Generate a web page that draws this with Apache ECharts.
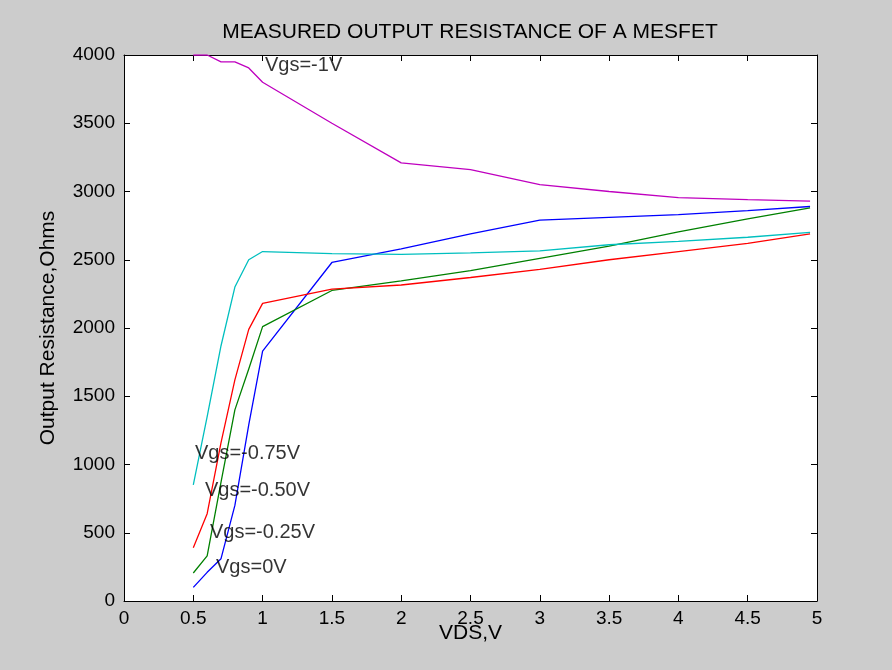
<!DOCTYPE html>
<html>
<head>
<meta charset="utf-8">
<script src="https://cdn.jsdelivr.net/npm/echarts@6/dist/echarts.min.js"></script>
<style>
  html, body { margin: 0; padding: 0; background: #cccccc; }
  #chart { width: 892px; height: 670px; }
</style>
</head>
<body>
<div id="chart"></div>
<script>
// drain-source voltage (V)
var vds = [0.5, 0.6, 0.7, 0.8, 0.9, 1.0, 1.5, 2.0, 2.5, 3.0, 3.5, 4.0, 4.5, 4.95];

// output resistance (Ohms) for each gate voltage
var rVgs0    = [100, 210, 310, 700, 1290, 1830, 2480, 2580, 2690, 2790, 2810, 2830, 2860, 2890];
var rVgs025  = [205, 330, 870, 1400, 1700, 2010, 2275, 2345, 2420, 2510, 2600, 2705, 2800, 2880];
var rVgs050  = [390, 640, 1160, 1620, 1990, 2180, 2285, 2315, 2370, 2430, 2500, 2560, 2620, 2690];
var rVgs075  = [850, 1350, 1870, 2300, 2500, 2560, 2545, 2540, 2550, 2565, 2610, 2635, 2665, 2700];
var rVgs1    = [4000, 4000, 3950, 3950, 3905, 3800, 3500, 3210, 3160, 3050, 3000, 2955, 2940, 2930];

// curve labels (text placed at data coords)
var labelText = ['Vgs=-1V', 'Vgs=-0.75V', 'Vgs=-0.50V', 'Vgs=-0.25V', 'Vgs=0V'];
var labelX = [1.017, 0.512, 0.584, 0.62, 0.664];
var labelY = [3920, 1084, 813, 505, 249];

var xTicks = [0, 0.5, 1, 1.5, 2, 2.5, 3, 3.5, 4, 4.5, 5];
var yTicks = [0, 500, 1000, 1500, 2000, 2500, 3000, 3500, 4000];

function pairs(ys) {
  return vds.map(function (x, i) { return [x, ys[i]]; });
}

var font = 'Liberation Sans, Arial, sans-serif';
var chart = echarts.init(document.getElementById('chart'));

function makeAxis(pos, ticks, showLabels, name) {
  return {
    type: 'value',
    position: pos,
    min: ticks[0],
    max: ticks[ticks.length - 1],
    interval: ticks[1] - ticks[0],
    name: name || '',
    nameLocation: 'middle',
    nameMoveOverlap: false,
    nameTextStyle: { color: '#000', fontFamily: font, fontSize: 21 },
    axisLine: { show: true, onZero: false, lineStyle: { color: '#000', width: 1 } },
    axisTick: { show: true, inside: true, length: 6, lineStyle: { color: '#000' } },
    axisLabel: {
      show: showLabels,
      color: '#000',
      fontFamily: font,
      fontSize: 19,
      formatter: function (v) { return String(v); }
    },
    splitLine: { show: false }
  };
}

var xBottom = makeAxis('bottom', xTicks, true, 'VDS,V');
xBottom.nameGap = 22;
xBottom.axisLabel.margin = 8;
var xTop = makeAxis('top', xTicks, false);
var yLeft = makeAxis('left', yTicks, true, 'Output Resistance,Ohms');
yLeft.nameGap = 65;
yLeft.nameRotate = 90;
yLeft.axisLabel.margin = 9;
var yRight = makeAxis('right', yTicks, false);

function lineSeries(name, ys, color) {
  return {
    name: name,
    type: 'line',
    data: pairs(ys),
    showSymbol: false,
    symbol: 'none',
    smooth: false,
    silent: true,
    lineStyle: { color: color, width: 1.3 },
    xAxisIndex: 0,
    yAxisIndex: 0
  };
}

chart.setOption({
  backgroundColor: '#cccccc',
  animation: false,
  title: {
    text: 'MEASURED OUTPUT RESISTANCE OF A MESFET',
    left: 465,
    top: 17,
    textAlign: 'center',
    textStyle: { color: '#000', fontFamily: font, fontSize: 21, fontWeight: 'normal' }
  },
  grid: {
    left: 124,
    top: 55,
    right: 75,
    bottom: 69,
    show: true,
    backgroundColor: '#ffffff',
    borderWidth: 0
  },
  xAxis: [xBottom, xTop],
  yAxis: [yLeft, yRight],
  series: [
    lineSeries('Vgs=0V', rVgs0, '#0000ff'),
    lineSeries('Vgs=-0.25V', rVgs025, '#008000'),
    lineSeries('Vgs=-0.50V', rVgs050, '#ff0000'),
    lineSeries('Vgs=-0.75V', rVgs075, '#00bfbf'),
    lineSeries('Vgs=-1V', rVgs1, '#bf00bf'),
    {
      name: 'labels',
      type: 'scatter',
      silent: true,
      symbolSize: 0,
      data: labelX.map(function (x, i) { return [x, labelY[i]]; }),
      label: {
        show: true,
        position: 'right',
        distance: 0,
        color: '#000',
        fontFamily: font,
        fontSize: 20,
        formatter: function (p) { return labelText[p.dataIndex]; }
      },
      z: 10
    }
  ]
});
</script>
</body>
</html>
